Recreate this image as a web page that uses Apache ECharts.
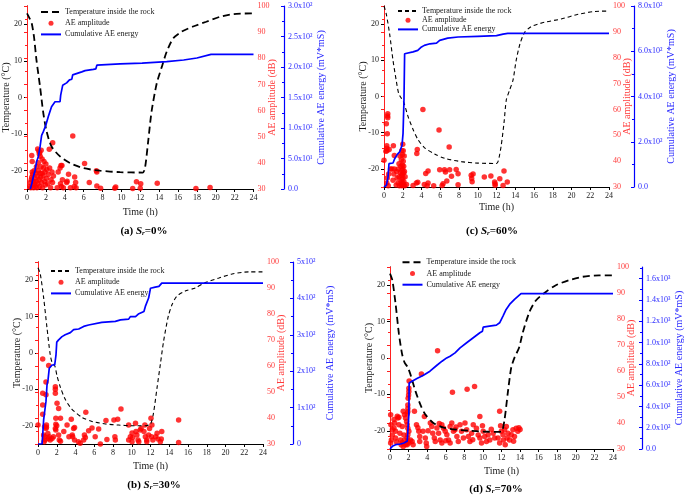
<!DOCTYPE html>
<html><head><meta charset="utf-8">
<script src="https://cdn.jsdelivr.net/npm/echarts@6/dist/echarts.min.js"></script>
<style>html,body{margin:0;padding:0;background:#fff}#c{width:685px;height:496px}</style>
</head><body><div id="c"></div><script>
// ---------------- DATA ----------------
const tickTemp = [-20, -10, 0, 10, 20];
const timeTicks = [0, 2, 4, 6, 8, 10, 12, 14, 16, 18, 20, 22, 24];

// (a) Sr = 0%
const tempA = [[0,23],[0.3,21.5],[0.5,20.3],[0.74,16.6],[1.0,10.3],[1.38,3],[1.73,-4.3],[2.08,-9.3],[2.6,-13.4],[3.5,-16.1],[4.56,-17.9],[5.97,-19.3],[7.74,-20],[9.86,-20.4],[12.26,-20.5],[12.5,-19.3],[12.86,-11.5],[13.2,-3.8],[13.75,3.9],[14.3,8.5],[14.8,12.5],[15.5,16.2],[16.4,18],[17.6,19.4],[19.0,20.7],[20.5,22.1],[21.9,22.8],[24,23]];
const energyA = [[0.35,0],[0.5,8],[0.67,20],[0.85,30],[1.02,45],[1.2,53],[1.38,69],[1.55,88],[1.73,94],[2.0,105],[2.26,119],[2.44,122],[2.6,135],[2.97,143],[3.5,143],[3.57,154],[3.7,157],[3.78,170],[4.2,174],[4.5,179],[4.75,180],[4.84,187],[5.8,192],[6.15,194],[7.03,196],[7.3,197],[7.4,203],[9.86,205],[12.2,206.5],[14.8,208.7],[16.6,211.5],[18,214.7],[19.5,220.7],[24,220.7]];
const ampA = [[0.3,31],[0.35,32.5],[0.4,30.5],[0.45,33.5],[0.5,34.5],[0.5,42.8],[0.55,40.5],[0.55,36.5],[0.6,31.5],[0.6,35.5],[0.65,33],[0.7,30.5],[0.75,37],[0.8,32],[0.85,34],[0.9,31],[0.95,36],[1.0,33],[1.0,38.5],[1.05,30.5],[1.1,35],[1.13,45.3],[1.15,32],[1.2,40],[1.2,37],[1.25,44.5],[1.3,33.5],[1.3,43.5],[1.35,31],[1.35,44],[1.4,36],[1.4,42.5],[1.45,34.5],[1.5,38.5],[1.5,44.8],[1.55,32.5],[1.6,41.5],[1.6,36],[1.65,30.5],[1.7,35],[1.75,38],[1.8,40.5],[1.85,33],[1.9,36.5],[1.95,31.5],[2.0,39.6],[2.05,34],[2.1,37.5],[2.2,32],[2.25,35.5],[2.36,45.2],[2.4,38],[2.5,30.5],[2.55,33.5],[2.65,36.5],[2.7,32.5],[2.72,47.7],[2.8,35],[3.2,30.5],[3.3,36.5],[3.5,38],[3.55,32],[3.6,39],[3.65,31],[3.7,39],[3.75,33.5],[3.85,30.5],[4.2,32.5],[4.25,33],[4.4,35.6],[4.6,30.5],[4.85,50.3],[5.0,31],[5.05,34.6],[5.15,32.5],[5.2,30.5],[6.1,39.8],[6.6,32.5],[7.35,37],[7.4,36.5],[7.4,31.1],[7.8,30.3],[9.3,30.3],[9.4,30.8],[11.2,30.2],[11.6,32.8],[12.0,30.3],[12.05,32],[13.8,32.2],[17.9,30.2],[19.4,30.6]];

// (c) Sr = 60%
const tempC = [[0,25],[0.25,22.7],[0.6,17.3],[0.96,10],[1.3,4.5],[1.56,0.9],[1.85,-0.5],[2.13,-1.8],[2.56,-5.5],[3.1,-9.1],[3.6,-11.8],[4.3,-14.1],[5.4,-15.9],[6.5,-17.1],[8.25,-18],[10,-18.4],[12,-18.5],[12.2,-17.7],[12.5,-13.6],[12.8,-7.3],[13.05,-0.9],[13.4,1.8],[13.76,4.5],[14.1,10],[14.5,14.5],[15,17.7],[15.7,19.3],[17.1,20.5],[18.9,21.4],[20.7,22.7],[22.5,23.5],[24,23.6]];
const energyC = [[0,0],[0.25,7],[0.43,44],[0.53,103],[0.96,106],[1.14,125],[1.42,144],[1.67,155],[1.85,162],[1.92,184],[2.03,236],[2.13,383],[2.2,589],[2.38,592],[3.1,597],[3.6,604],[4.0,619],[4.3,626],[4.9,633],[5.6,636],[5.94,648],[6.8,658],[7.9,663],[10,666],[12,669],[12.7,676],[13.2,679],[24,679]];
const ampC = [[0,40.3],[0.2,43.8],[0.25,54.5],[0.3,46],[0.3,45],[0.32,44],[0.35,50.6],[0.38,57.5],[0.4,58.3],[0.4,56.8],[0.3,31.5],[0.35,33.5],[0.45,30.5],[0.5,35],[0.55,44.5],[0.7,37],[0.85,37],[0.96,32.6],[1.0,46],[1.05,35],[1.1,37],[1.1,42.2],[1.3,30.8],[1.35,36],[1.4,33.5],[1.5,31.5],[1.5,37],[1.6,34],[1.6,39],[1.65,30.5],[1.7,42],[1.75,35.5],[1.8,32],[1.8,38],[1.85,31],[1.85,40.5],[1.88,34.5],[1.9,36.5],[1.9,44],[1.92,30.5],[1.92,33],[1.95,38.5],[1.95,42.5],[1.97,35],[2.0,31.5],[2.0,37],[2.0,46.5],[2.02,33.5],[2.05,40],[2.05,44],[2.07,30.8],[2.1,35.5],[2.1,38],[2.12,32],[2.15,42],[2.18,36],[2.2,30.5],[2.25,34],[2.4,31],[3.1,30.6],[3.45,31.5],[3.5,43],[3.55,44.5],[3.6,31.8],[4.15,60],[4.3,31],[4.45,35.2],[4.6,30.5],[4.7,36.2],[4.7,31.5],[5.3,30.5],[5.87,52],[5.94,36.7],[6.2,30.6],[6.3,31.3],[6.45,36.7],[6.55,35.8],[6.7,32.3],[6.95,45.5],[7.0,36.7],[7.2,34.2],[7.7,36.8],[7.9,35.1],[7.9,30.9],[9.3,34.5],[9.35,33.3],[9.4,32],[9.5,35],[10.7,33.9],[11.4,34.3],[11.8,31.9],[11.85,30.7],[11.85,31.3],[12.35,33.2],[12.8,36.2],[12.7,30.6],[13.15,31.9]];

// (b) Sr = 30%
const tempB = [[0,23.4],[0.25,21.6],[0.6,15.2],[0.96,6.9],[1.3,-0.4],[1.5,-2.6],[1.8,-3.6],[2.03,-6.3],[2.4,-9.5],[2.9,-12.7],[3.6,-15.4],[4.7,-17.7],[5.76,-18.8],[7.2,-19.5],[8.6,-19.8],[10,-20],[11.45,-20],[12,-19.5],[12.3,-16.8],[12.7,-9.5],[13.05,-3.1],[13.4,3.3],[13.9,10.1],[14.3,13.3],[14.8,15.6],[15.7,17],[16.8,17.9],[17.8,19.3],[19.3,20.6],[20.7,21.7],[22.5,22.3],[24,22.3]];
const energyB = [[0,0],[0.43,0],[0.5,25],[0.6,66],[0.71,89],[0.85,117],[0.96,162],[1.07,176],[1.2,208],[1.5,217],[1.78,217],[1.92,245],[2.0,280],[2.2,286],[2.56,295],[2.9,300],[3.45,306],[3.8,314],[4.34,316],[4.87,323],[5.4,327],[5.6,332],[6.8,334],[8.25,337],[8.8,341],[9.67,343],[9.85,350],[10.4,350],[10.7,357],[11.3,364],[11.45,378],[11.6,383],[11.8,401],[12.0,428],[12.5,431],[12.9,433],[13.2,442],[24,442]];
const ampB = [[0,37.3],[0.5,62.7],[0.5,49.5],[0.5,45],[0.5,41.4],[0.6,33.5],[0.7,32.8],[0.75,31.5],[0.65,30.9],[0.7,36.6],[0.85,36],[0.9,36.4],[0.9,37.3],[0.85,53.8],[0.85,48.9],[1.14,60.2],[1.05,34],[1.1,32.1],[1.3,31.5],[1.2,32.8],[1.5,32.1],[1.65,32.8],[1.85,52],[1.85,51.1],[1.85,49.5],[2.03,45.7],[1.9,39.9],[1.9,37.6],[2.0,37],[1.85,36],[1.9,35.4],[2.2,43.7],[2.2,33.5],[2.27,31.5],[2.4,31.1],[2.4,39.9],[2.75,34.8],[3.1,37.3],[3.3,32.8],[3.55,39.5],[3.8,36],[3.9,36.3],[3.65,33.5],[3.7,32.8],[3.9,31.5],[4.3,30.9],[4.5,30.3],[4.95,33.5],[5.05,32.5],[5.1,42.2],[5.4,35.1],[4.87,31.5],[5.76,36.2],[6.1,32.8],[6.47,35.8],[6.65,30],[7.25,39],[7.35,31.7],[8.1,39.2],[8.2,32.8],[8.25,31.5],[8.5,39.5],[8.85,43.5],[9.67,37.3],[9.85,32.8],[9.67,31.5],[10.03,34.2],[10.1,32.5],[10.03,30.9],[10.4,38],[10.45,34.8],[10.55,33.5],[10.67,31.5],[10.75,30.9],[10.9,35.4],[11.0,36],[11.3,34.8],[11.4,37.3],[11.45,32.8],[11.6,31.5],[11.6,30.9],[11.8,33.5],[11.9,36],[12.05,39.9],[12.15,37.3],[12.1,32.8],[12.25,31.5],[12.55,32.8],[12.7,34.1],[12.8,31.9],[13.05,30.9],[13.15,31.9],[13.2,34.8],[15,39.2],[15,30.6]];

// (d) Sr = 70%
const tempD = [[0,23.2],[0.25,21.4],[0.6,14.9],[0.96,6.6],[1.3,1.1],[1.56,-1.2],[1.92,-2.6],[2.2,-4.5],[2.74,-9.1],[3.27,-12.8],[3.8,-15.5],[4.7,-17.9],[5.76,-19.1],[7.2,-19.7],[8.6,-20],[10,-20.2],[11.45,-20.3],[12,-20.2],[12.3,-17.4],[12.7,-9.1],[13.05,-2.6],[13.4,0.1],[13.9,2.9],[14.3,7.1],[15,12.6],[15.7,15.8],[16.8,18.2],[17.85,20],[19.3,21.4],[20.7,22.3],[22.5,22.7],[24,22.7]];
const energyD = [[0,0],[0.25,25],[0.6,41],[1.14,47],[1.5,56],[1.85,72],[1.92,166],[2.03,323],[2.06,621],[2.38,637],[2.9,662],[3.6,693],[4.3,731],[5.05,787],[5.6,825],[6.1,856],[6.47,872],[7.0,903],[7.54,950],[8.25,998],[8.96,1045],[9.67,1092],[9.95,1107],[10.03,1145],[10.7,1154],[11.45,1164],[11.8,1186],[12.16,1249],[12.5,1311],[12.87,1358],[13.4,1405],[14.1,1459],[24,1459]];
const ampD = [[0.07,43.2],[0.1,39.3],[0.25,37.4],[0.25,35.4],[0.15,33.5],[0.07,32.3],[0.43,41.3],[0.5,40],[0.43,38.1],[0.6,36.8],[0.6,34.2],[0.7,32.7],[0.78,42.6],[0.85,41.9],[0.96,42.2],[0.96,39.3],[1.07,36.1],[1.14,33.5],[1.2,31.6],[1.32,32.5],[1.42,31],[1.32,38.7],[1.5,35.4],[1.56,33.5],[1.67,31.6],[1.78,32.3],[1.42,44.5],[1.56,43.2],[1.67,41.9],[1.78,40.6],[1.85,39.3],[1.92,38],[2.03,36.8],[1.92,35.5],[1.85,34.2],[1.92,32.9],[2.03,32.3],[1.85,31.6],[2.06,56.2],[2.03,53.4],[2.03,52.1],[2.0,50.8],[1.95,49.5],[1.92,46.9],[1.92,45.6],[1.92,44.3],[1.85,43.6],[2.2,33.5],[2.38,32.9],[2.49,31.6],[2.63,44.5],[2.85,39.3],[3.1,36.8],[3.2,34.8],[3.2,32.9],[3.38,58.8],[3.55,36.8],[3.7,42.5],[3.8,34.2],[3.9,32.3],[3.95,31],[4.34,40],[4.5,38.7],[4.6,36.1],[4.77,34.2],[4.87,32.9],[5.12,67.8],[5.05,38.1],[5.23,36.1],[5.4,33.5],[5.58,32.3],[5.58,39.3],[5.76,38],[5.94,36.8],[6.12,35.5],[6.3,33.5],[6.47,32.3],[6.47,38.7],[6.83,36.8],[6.65,40],[6.72,51.8],[7.0,37.4],[7.2,34.8],[7.35,32.9],[7.54,39.3],[7.7,36.8],[7.9,34.2],[8.07,40],[8.3,53],[8.25,37.4],[8.43,34.8],[8.6,32.9],[8.78,36.1],[9.1,54],[8.96,39.3],[9.3,38],[9.49,35.4],[9.67,34.2],[9.85,32.3],[9.67,42.5],[10.03,36.8],[10.2,34.8],[10.38,32.9],[10.56,35.5],[10.74,33.5],[11.1,36.1],[11.27,34.2],[11.8,44.5],[11.63,34.2],[11.8,32.3],[11.98,36.8],[12.16,35.5],[12.2,33.5],[12.34,37.4],[12.4,31.6],[12.52,38.7],[12.7,36.1],[12.87,33.5],[13.05,35.5],[13.23,37.4],[13.3,33],[13.4,34.8],[13.58,38],[13.76,36.8],[13.87,38.2],[14.0,37.5],[3.0,38.2],[4.1,37],[5.3,39.8],[6.0,33.2],[7.1,38.5],[8.9,33.6],[9.95,38.9],[10.9,37.6],[11.9,38.9],[12.6,34.2]];

const blueA = [0, 50, 100, 150, 200, 250, 300];
const blueB = [0, 100, 200, 300, 400, 500];
const blueC = [0, 200, 400, 600, 800];
const blueD = [0, 200, 400, 600, 800, 1000, 1200, 1400, 1600];

const NAME_T = 'Temperature inside the rock';
const NAME_A = 'AE amplitude';
const NAME_E = 'Cumulative AE energy';

// ---------------- STYLE / LAYOUT ----------------
const FONT = '"Liberation Serif","Times New Roman",serif';
const RED = '#ff2020', RED_T = '#ff3a3a', BLUE = '#0000ff', BLUE_T = '#2a2aff', INK = '#1a1a1a';
const sup = {1:'\u00b9', 2:'\u00b2', 3:'\u00b3'};
function sci(v, mantDigits) {
  if (v === 0) return mantDigits ? '0.0' : '0';
  const e = Math.floor(Math.log10(v) + 1e-9);
  const m = v / Math.pow(10, e);
  return (mantDigits ? m.toFixed(1) : String(Math.round(m))) + 'x10' + sup[e];
}

const panels = [
  {key:'a', grid:{left:27, top:6, width:226.5, height:183}, temp:tempA, energy:energyA, amp:ampA,
   blueTicks:blueA, blueMax:300, blueInt:50, blueOff:30.5, digits:1, dash:[7,4], tw:1.8,
   legend:{left:40, top:7.5, gap:2.2}, timeGap:18, caption:{x:144, y:230, tag:'(a) ', pct:'=0%'}},
  {key:'c', grid:{left:384, top:6, width:225, height:181}, temp:tempC, energy:energyC, amp:ampC,
   blueTicks:blueC, blueMax:800, blueInt:200, blueOff:25, digits:1, dash:[4,3], tw:1.1,
   legend:{left:397, top:6.5, gap:0.2}, timeGap:15.5, caption:{x:492, y:230, tag:'(c) ', pct:'=60%'}},
  {key:'b', grid:{left:38, top:262, width:225, height:182}, temp:tempB, energy:energyB, amp:ampB,
   blueTicks:blueB, blueMax:500, blueInt:100, blueOff:30, digits:0, dash:[4,3], tw:1.1,
   legend:{left:50, top:266.5, gap:2.2}, timeGap:17, caption:{x:154, y:484, tag:'(b) ', pct:'=30%'}},
  {key:'d', grid:{left:390, top:267, width:225, height:182}, temp:tempD, energy:energyD, amp:ampD,
   blueTicks:blueD, blueMax:1710, blueInt:200, blueOff:29, digits:1, dash:[7,4], tw:1.8,
   legend:{left:401.5, top:257.8, gap:2.2}, timeGap:17.5, caption:{x:496, y:488, tag:'(d) ', pct:'=70%'}}
];

const grids = [], xAxes = [], yAxes = [], series = [], legends = [], graphics = [];
panels.forEach((p, i) => {
  grids.push(Object.assign({containLabel:false}, p.grid));
  xAxes.push({
    gridIndex:i, type:'value', min:0, max:24, interval:2,
    name:'Time (h)', nameLocation:'middle', nameGap:p.timeGap, nameMoveOverlap:false,
    nameTextStyle:{fontFamily:FONT, fontSize:10, color:INK},
    axisLine:{onZero:false, lineStyle:{color:'#000', width:1}},
    axisTick:{length:3, lineStyle:{color:'#000'}},
    axisLabel:{fontFamily:FONT, fontSize:8, color:INK, margin:5, customValues:timeTicks},
    splitLine:{show:false}
  });
  yAxes.push({
    gridIndex:i, type:'value', min:-25, max:25, interval:5, position:'left',
    name:'Temperature (\u00b0C)', nameLocation:'middle', nameGap:16, nameMoveOverlap:false,
    nameTextStyle:{fontFamily:FONT, fontSize:10, color:INK},
    axisLine:{show:true, onZero:false, lineStyle:{color:'#000', width:1}},
    axisTick:{show:true, length:3, customValues:tickTemp, lineStyle:{color:'#000'}},
    axisLabel:{fontFamily:FONT, fontSize:8, color:INK, margin:5, customValues:tickTemp,
      formatter:v => (v % 10 === 0 ? String(v) : '')},
    splitLine:{show:false}
  });
  yAxes.push({
    gridIndex:i, type:'value', min:30, max:100, interval:10, position:'right',
    name:'AE amplitude (dB)', nameLocation:'middle', nameGap:13.5, nameMoveOverlap:false,
    nameTextStyle:{fontFamily:FONT, fontSize:10, color:RED_T},
    axisLine:{show:true, lineStyle:{color:RED, width:1}},
    axisTick:{show:true, inside:true, length:3, lineStyle:{color:RED}},
    minorTick:{show:true, splitNumber:2, length:2, lineStyle:{color:RED}},
    axisLabel:{fontFamily:FONT, fontSize:8, color:RED_T, margin:4},
    splitLine:{show:false}
  });
  yAxes.push({
    gridIndex:i, type:'value', min:0, max:p.blueMax, interval:p.blueInt, position:'right', offset:p.blueOff,
    name:'Cumulative AE energy (mV*mS)', nameLocation:'middle', nameGap:32, nameMoveOverlap:false,
    nameTextStyle:{fontFamily:FONT, fontSize:10, color:BLUE_T},
    axisLine:{show:true, lineStyle:{color:BLUE, width:1.2}},
    axisTick:{show:true, inside:true, length:3, customValues:p.blueTicks, lineStyle:{color:BLUE}},
    minorTick:{show:true, splitNumber:2, length:2, lineStyle:{color:BLUE}},
    axisLabel:{fontFamily:FONT, fontSize:8, color:BLUE_T, margin:4, customValues:p.blueTicks,
      formatter:v => (p.blueTicks.indexOf(v) >= 0 ? sci(v, p.digits) : '')},
    splitLine:{show:false}
  });
  const tag = '#' + p.key;
  series.push({
    type:'scatter', name:NAME_A + tag, xAxisIndex:i, yAxisIndex:3*i+1, data:p.amp,
    symbol:'circle', symbolSize:5.5, itemStyle:{color:'#ff0000'}, z:2, silent:true
  });
  series.push({
    type:'line', name:NAME_T + tag, xAxisIndex:i, yAxisIndex:3*i, data:p.temp,
    symbol:'none', smooth:0.25, lineStyle:{color:'#000', width:p.tw, type:p.dash}, z:3, silent:true
  });
  series.push({
    type:'line', name:NAME_E + tag, xAxisIndex:i, yAxisIndex:3*i+2, data:p.energy,
    symbol:'none', lineStyle:{color:BLUE, width:1.7}, z:4, silent:true
  });
  legends.push({
    data:[
      {name:NAME_T + tag, itemStyle:{opacity:0}},
      {name:NAME_A + tag},
      {name:NAME_E + tag, itemStyle:{opacity:0}}
    ],
    orient:'vertical',
    left:p.legend.left, top:p.legend.top, itemGap:p.legend.gap, itemWidth:20, itemHeight:5,
    padding:0, selectedMode:false,
    formatter:n => n.split('#')[0],
    textStyle:{fontFamily:FONT, fontSize:8, color:INK, lineHeight:9, padding:[0,0,0,-1]}
  });
  graphics.push({
    type:'text', x:p.caption.x, y:p.caption.y,
    style:{
      text:'{b|' + p.caption.tag + '}{i|S}{s|r}{b|' + p.caption.pct + '}',
      align:'center', verticalAlign:'middle',
      rich:{
        b:{fontFamily:FONT, fontSize:11, fontWeight:'bold', fill:'#000', verticalAlign:'bottom', lineHeight:13},
        i:{fontFamily:FONT, fontSize:11, fontWeight:'bold', fontStyle:'italic', fill:'#000', verticalAlign:'bottom', lineHeight:13},
        s:{fontFamily:FONT, fontSize:7, fontStyle:'italic', fontWeight:'bold', fill:'#000', verticalAlign:'bottom', lineHeight:13, padding:[3,0,0,0]}
      }
    }
  });
});

const chart = echarts.init(document.getElementById('c'), null, {renderer:'canvas'});
chart.setOption({
  backgroundColor:'#fff', animation:false,
  textStyle:{fontFamily:FONT},
  grid:grids, xAxis:xAxes, yAxis:yAxes, series:series, legend:legends, graphic:graphics
});
</script></body></html>
